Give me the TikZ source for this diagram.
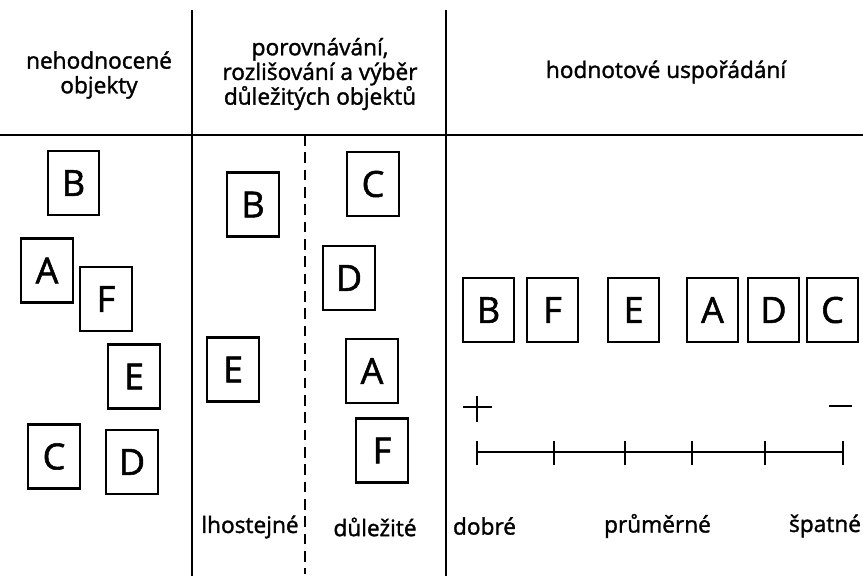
\documentclass[tikz,border=0pt]{standalone}
\usepackage{fontspec}
\setmainfont{Open Sans}
\newfontfamily\medfont{Open Sans}[FakeBold=1.5]
\begin{document}
\begin{tikzpicture}[x=0.75pt,y=-0.75pt,
  rule/.style={line width=2.2pt},
  box/.style={draw,line width=1.6pt,minimum width=38.5pt,minimum height=48pt,inner sep=0pt,font=\medfont\fontsize{27}{27}\selectfont},
  head/.style={align=center,font=\medfont\fontsize{17}{18.5}\selectfont},
  lab/.style={font=\medfont\fontsize{17}{19}\selectfont},
  scaleline/.style={line width=2pt}]
\useasboundingbox (0,0) rectangle (863,578);
% frame lines
\coordinate (h0) at (0,135); \coordinate (h1) at (863,135);
\coordinate (v1t) at (192,10); \coordinate (v1b) at (192,576);
\coordinate (v2t) at (446,10); \coordinate (v2b) at (446,576);
\coordinate (dt) at (305,135); \coordinate (db) at (305,574);
\draw[rule] (h0) -- (h1);
\draw[rule] (v1t) -- (v1b);
\draw[rule] (v2t) -- (v2b);
\draw[line width=2pt,dash pattern=on 8pt off 5pt] (dt) -- (db);
% headers
\node[head] (hA) at (99,75) {nehodnocené\\objekty};
\node[head] (hB) at (320,74) {porovnávání,\\rozlišování a výběr\\důležitých objektů};
\node[head] (hC) at (666,72) {hodnotové uspořádání};
% left column
\node[box] (B1) at (73.5,183) {B};
\node[box] (A1) at (47,270.5) {A};
\node[box] (F1) at (106,299) {F};
\node[box] (E1) at (134,376.5) {E};
\node[box] (C1) at (54,456.5) {C};
\node[box] (D1) at (132,462) {D};
% middle column
\node[box] (B2) at (253,204.5) {B};
\node[box] (E2) at (233,369.5) {E};
\node[box] (C2) at (373,184) {C};
\node[box] (D2) at (349,278) {D};
\node[box] (A2) at (372,371) {A};
\node[box] (F2) at (382,450.5) {F};
\node[lab] (l1) at (250,527) {lhostejné};
\node[lab] (l2) at (375,527) {důležité};
% right column
\node[box] (B3) at (488.5,310) {B};
\node[box] (F3) at (552.5,310) {F};
\node[box] (E3) at (633.5,310) {E};
\node[box] (A3) at (712.5,310) {A};
\node[box] (D3) at (773.5,310) {D};
\node[box] (C3) at (832.5,310) {C};
% plus and minus
\coordinate (pl) at (463,407); \coordinate (pr) at (492,407);
\coordinate (pt) at (477,396); \coordinate (pb) at (477,422);
\draw[scaleline] (pl) -- (pr); \draw[scaleline] (pt) -- (pb);
\coordinate (ml) at (829,406); \coordinate (mr) at (852,406);
\draw[scaleline] (ml) -- (mr);
% scale
\foreach \n/\x in {0/477,1/554,2/625,3/692,4/765,5/843}{
  \coordinate (t\n) at (\x,452);
  \coordinate (t\n a) at (\x,441);
  \coordinate (t\n b) at (\x,465);
  \draw[scaleline] (t\n a) -- (t\n b);
}
\draw[scaleline] (t0) -- (t5);
\node[lab] (s1) at (484.5,526) {dobré};
\node[lab] (s2) at (657.5,526) {průměrné};
\node[lab] (s3) at (825,526) {špatné};
\end{tikzpicture}
\end{document}
